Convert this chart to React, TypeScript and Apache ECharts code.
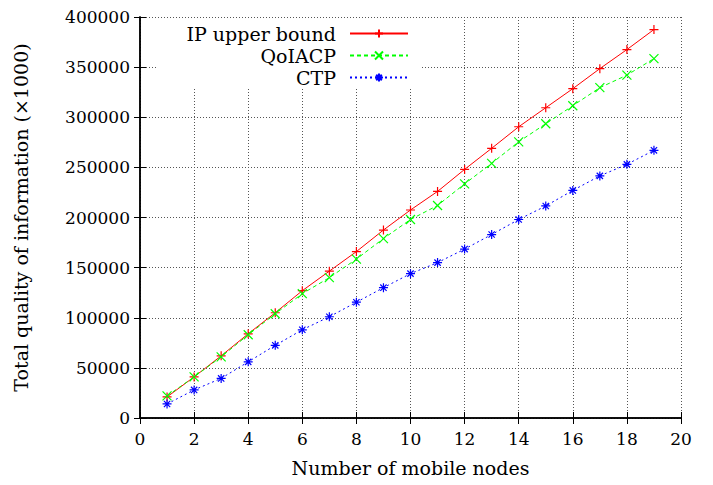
import React, { useEffect, useRef } from "react";
import * as echarts from "echarts";

const nodes = [1, 2, 3, 4, 5, 6, 7, 8, 9, 10, 11, 12, 13, 14, 15, 16, 17, 18, 19];
const ipUpperBound = [21000, 41000, 62000, 84000, 105000, 127000, 146500, 166000, 187500, 207500, 226000, 248000, 269000, 290500, 309500, 328500, 348500, 367500, 387500];
const qoiacp = [22000, 41000, 61000, 83000, 104000, 124000, 140000, 158500, 179000, 198000, 212000, 233500, 254000, 275500, 293500, 311500, 329500, 342000, 358500];
const ctp = [14000, 28000, 39500, 56000, 72500, 88000, 101000, 115500, 130000, 144000, 155000, 168500, 183000, 198000, 211500, 227000, 241500, 253000, 267000];
const seriesNames = ["IP upper bound", "QoIACP", "CTP"];

const SERIF = "DejaVu Serif";
const PLUS = "path://M0,5L10,5M5,0L5,10";
const CROSS = "path://M0,0L10,10M0,10L10,0";
const STAR = "path://M0,5L10,5M5,0L5,10M1.5,1.5L8.5,8.5M1.5,8.5L8.5,1.5";

function pairs(ys: number[]) {
  return nodes.map((x, i) => [x, ys[i]]);
}

export default function App() {
  const ref = useRef<HTMLDivElement>(null);
  useEffect(() => {
    document.body.style.margin = "0";
    if (!ref.current) return;
    const chart = echarts.init(ref.current, undefined, { renderer: "svg" });
    const gridLine = { show: true, lineStyle: { color: "#555", width: 1, type: [1, 2] as any } };
    const frame = { show: true, lineStyle: { color: "#000", width: 1.5 } };
    const mk = (name: string, data: number[], color: string, symbol: string, type: any) => ({
      name,
      type: "line",
      data: pairs(data),
      symbol,
      symbolSize: 9,
      showSymbol: true,
      lineStyle: { color, width: 1, type },
      itemStyle: { color: "none", borderColor: color, borderWidth: 1.2 },
      z: 3,
    });
    chart.setOption({
      animation: false,
      backgroundColor: "#fff",
      textStyle: { fontFamily: SERIF },
      grid: { left: 140, right: 32, top: 17, bottom: 67 },
      legend: {
        orient: "vertical",
        right: 299,
        top: 18,
        align: "right",
        itemWidth: 58,
        itemHeight: 10,
        itemGap: 1,
        textStyle: { fontFamily: SERIF, fontSize: 19, lineHeight: 21, color: "#000", width: 180, align: "right", padding: [0, 9, 0, 0] },
        data: seriesNames,
      },
      xAxis: [
        {
          type: "value",
          min: 0,
          max: 20,
          interval: 2,
          name: "Number of mobile nodes",
          nameLocation: "middle",
          nameGap: 40,
          nameTextStyle: { fontFamily: SERIF, fontSize: 19, color: "#000" },
          axisLine: frame,
          axisTick: { show: true, inside: true, length: 6, lineStyle: { color: "#000" } },
          axisLabel: { fontFamily: SERIF, fontSize: 17, color: "#000", margin: 12 },
          splitLine: gridLine,
        },
        {
          type: "value",
          position: "top",
          min: 0,
          max: 20,
          interval: 2,
          axisLine: frame,
          axisTick: { show: true, inside: true, length: 6, lineStyle: { color: "#000" } },
          axisLabel: { show: false },
          splitLine: { show: false },
        },
      ],
      yAxis: [
        {
          type: "value",
          min: 0,
          max: 400000,
          interval: 50000,
          name: "Total quality of information (×1000)",
          nameLocation: "middle",
          nameGap: 110,
          nameTextStyle: { fontFamily: SERIF, fontSize: 19, color: "#000" },
          axisLine: frame,
          axisTick: { show: true, inside: true, length: 6, lineStyle: { color: "#000" } },
          axisLabel: { fontFamily: SERIF, fontSize: 17, color: "#000", margin: 10, formatter: (v: number) => String(v) },
          splitLine: gridLine,
        },
        {
          type: "value",
          position: "right",
          min: 0,
          max: 400000,
          interval: 50000,
          axisLine: frame,
          axisTick: { show: true, inside: true, length: 6, lineStyle: { color: "#000" } },
          axisLabel: { show: false },
          splitLine: { show: false },
        },
      ],
      graphic: [
        {
          type: "rect",
          left: 156,
          top: 18.5,
          shape: { width: 265, height: 69 },
          style: { fill: "#fff" },
          z: 1,
          silent: true,
        },
      ],
      series: [
        mk(seriesNames[0], ipUpperBound, "#ff0000", PLUS, "solid"),
        mk(seriesNames[1], qoiacp, "#00ff00", CROSS, [4, 3]),
        mk(seriesNames[2], ctp, "#0000ff", STAR, [2, 3]),
      ],
    });
    return () => chart.dispose();
  }, []);
  return <div ref={ref} style={{ width: 713, height: 485 }} />;
}
